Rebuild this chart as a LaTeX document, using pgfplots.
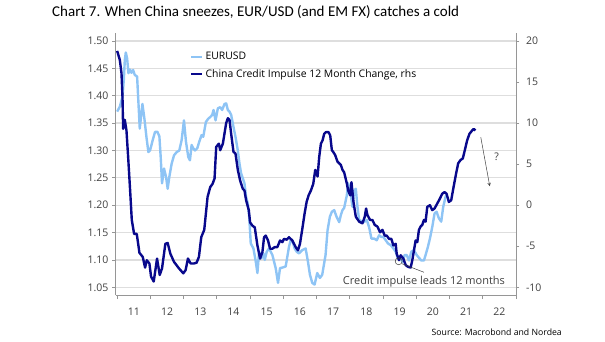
\documentclass[border=0pt]{standalone}
\usepackage{fontspec}
\usepackage{pgfplots}
\pgfplotsset{compat=1.18}
\setmainfont{Open Sans}
\newfontfamily\titlefont{Carlito}
\definecolor{eurlight}{RGB}{142,196,245}
\definecolor{cinavy}{RGB}{8,8,140}
\definecolor{txtgray}{RGB}{64,64,64}
\definecolor{gridgray}{RGB}{222,222,222}
\definecolor{axgray}{RGB}{150,150,150}

\pgfplotstableread{
x y
2011.00 1.371
2011.08 1.380
2011.16 1.398
2011.20 1.429
2011.23 1.465
2011.26 1.479
2011.30 1.468
2011.34 1.441
2011.38 1.448
2011.43 1.442
2011.48 1.447
2011.53 1.438
2011.60 1.435
2011.68 1.340
2011.76 1.385
2011.82 1.358
2011.88 1.325
2011.94 1.297
2011.99 1.300
2012.07 1.319
2012.14 1.334
2012.21 1.334
2012.27 1.326
2012.31 1.288
2012.35 1.240
2012.41 1.267
2012.47 1.252
2012.52 1.230
2012.57 1.252
2012.64 1.276
2012.71 1.291
2012.79 1.297
2012.87 1.300
2012.94 1.319
2013.01 1.355
2013.07 1.316
2013.14 1.288
2013.19 1.282
2013.24 1.310
2013.29 1.304
2013.34 1.300
2013.41 1.304
2013.47 1.316
2013.54 1.328
2013.59 1.325
2013.67 1.352
2013.74 1.358
2013.80 1.361
2013.86 1.365
2013.90 1.374
2013.96 1.355
2014.03 1.377
2014.10 1.379
2014.16 1.374
2014.23 1.385
2014.28 1.386
2014.33 1.374
2014.38 1.371
2014.43 1.365
2014.50 1.343
2014.56 1.325
2014.63 1.300
2014.68 1.276
2014.73 1.258
2014.78 1.249
2014.83 1.240
2014.88 1.215
2014.93 1.203
2014.97 1.181
2015.02 1.130
2015.10 1.121
2015.17 1.097
2015.22 1.076
2015.27 1.115
2015.34 1.103
2015.40 1.112
2015.44 1.100
2015.50 1.115
2015.57 1.121
2015.67 1.109
2015.77 1.085
2015.84 1.058
2015.90 1.085
2015.97 1.086
2016.07 1.088
2016.17 1.124
2016.22 1.136
2016.27 1.136
2016.34 1.121
2016.40 1.115
2016.47 1.112
2016.57 1.118
2016.67 1.121
2016.74 1.097
2016.80 1.073
2016.87 1.058
2016.94 1.055
2017.02 1.076
2017.10 1.067
2017.17 1.073
2017.27 1.109
2017.33 1.154
2017.40 1.179
2017.46 1.188
2017.53 1.191
2017.60 1.179
2017.68 1.169
2017.73 1.182
2017.78 1.191
2017.83 1.195
2017.91 1.218
2017.95 1.240
2018.01 1.227
2018.08 1.197
2018.13 1.227
2018.18 1.230
2018.23 1.197
2018.28 1.173
2018.38 1.170
2018.45 1.170
2018.51 1.173
2018.58 1.160
2018.65 1.139
2018.73 1.139
2018.81 1.136
2018.88 1.145
2018.95 1.142
2019.01 1.142
2019.08 1.136
2019.15 1.130
2019.23 1.127
2019.31 1.121
2019.38 1.115
2019.45 1.102
2019.53 1.104
2019.58 1.096
2019.65 1.109
2019.71 1.109
2019.78 1.099
2019.85 1.115
2019.93 1.118
2020.01 1.109
2020.08 1.104
2020.15 1.099
2020.23 1.099
2020.28 1.109
2020.35 1.124
2020.41 1.139
2020.48 1.160
2020.55 1.185
2020.61 1.188
2020.68 1.176
2020.75 1.170
2020.81 1.197
2020.88 1.215
2020.92 1.221
}\eurusd

\pgfplotstableread{
x y
2011.00 18.8
2011.08 17.7
2011.13 16.1
2011.16 13.2
2011.18 9.3
2011.23 10.4
2011.28 9.1
2011.33 5.9
2011.39 1.8
2011.44 -1.8
2011.51 -3.5
2011.59 -3.5
2011.67 -5.8
2011.77 -6.3
2011.84 -7.6
2011.89 -6.7
2011.97 -7.1
2012.02 -8.7
2012.10 -9.3
2012.20 -6.5
2012.28 -8.5
2012.35 -7.7
2012.45 -4.7
2012.52 -4.6
2012.60 -5.9
2012.71 -6.9
2012.86 -7.7
2012.99 -8.3
2013.06 -7.9
2013.13 -6.5
2013.21 -7.1
2013.31 -7.1
2013.39 -7.0
2013.46 -6.3
2013.53 -3.9
2013.62 -3.0
2013.67 -1.0
2013.72 1.0
2013.80 2.2
2013.87 2.6
2013.93 3.25
2013.98 7.1
2014.06 7.5
2014.10 6.7
2014.18 7.5
2014.28 10.0
2014.33 10.6
2014.38 10.4
2014.43 8.7
2014.50 6.5
2014.56 6.3
2014.63 4.3
2014.70 3.0
2014.78 2.0
2014.83 1.8
2014.88 0.6
2014.96 -0.6
2015.00 -2.1
2015.07 -2.5
2015.14 -2.7
2015.22 -4.9
2015.30 -6.5
2015.37 -5.7
2015.42 -3.9
2015.47 -3.7
2015.54 -4.3
2015.60 -5.3
2015.67 -5.3
2015.74 -5.1
2015.82 -5.1
2015.90 -4.3
2015.97 -4.5
2016.02 -4.1
2016.10 -4.2
2016.17 -3.9
2016.27 -4.3
2016.37 -5.1
2016.44 -5.5
2016.50 -4.7
2016.57 -2.9
2016.64 -1.0
2016.70 0.4
2016.76 1.2
2016.83 1.8
2016.90 2.6
2016.96 4.3
2017.03 3.5
2017.08 5.9
2017.13 7.5
2017.18 7.9
2017.23 8.7
2017.28 8.9
2017.36 8.9
2017.41 8.5
2017.46 6.7
2017.50 6.5
2017.56 6.1
2017.63 5.3
2017.68 5.1
2017.73 4.9
2017.78 4.3
2017.83 4.0
2017.91 2.65
2017.95 1.8
2018.01 1.2
2018.05 2.8
2018.11 0.4
2018.18 -1.4
2018.28 -2.0
2018.38 -2.2
2018.45 -1.4
2018.49 -0.4
2018.53 -1.2
2018.61 -1.8
2018.68 -1.8
2018.75 -2.4
2018.83 -2.6
2018.91 -3.3
2018.98 -3.0
2019.05 -3.7
2019.11 -3.7
2019.18 -4.1
2019.25 -4.1
2019.31 -4.9
2019.38 -4.7
2019.41 -5.9
2019.48 -6.7
2019.53 -6.1
2019.61 -6.5
2019.68 -7.3
2019.75 -7.5
2019.83 -7.6
2019.88 -6.7
2019.93 -5.5
2019.98 -4.3
2020.03 -4.5
2020.08 -3.0
2020.13 -2.6
2020.18 -2.4
2020.23 -1.8
2020.28 -2.0
2020.33 -0.2
2020.41 0.0
2020.48 -0.6
2020.55 -0.4
2020.63 0.2
2020.71 0.8
2020.78 1.4
2020.85 1.6
2020.91 1.4
2020.98 0.4
2021.05 0.6
2021.13 2.4
2021.20 3.9
2021.26 5.1
2021.33 5.5
2021.40 5.7
2021.46 6.7
2021.53 7.9
2021.60 8.7
2021.68 9.1
2021.73 9.3
2021.78 9.1
}\credit

\pgfplotsset{
  common/.style={
    at={(115.5pt,46pt)}, anchor=south west,
    width=400.5pt, height=262pt, scale only axis,
    xmin=2010.95, xmax=2023,
    tick align=outside,
    /pgf/number format/assume math mode=true,
    tick label style={font=\fontsize{10.5}{12}\selectfont, color=txtgray},
    axis line style={axgray, line width=0.8pt},
    tick style={axgray, line width=0.8pt},
    major tick length=3.5pt,
    minor tick length=4pt,
  }
}

\begin{document}
\begin{tikzpicture}
\useasboundingbox (0pt,0pt) rectangle (605pt,341pt);
\node[anchor=base west, inner sep=0pt, font=\titlefont\fontsize{15}{18}\selectfont] at (52pt,324.5pt) {Chart 7. When China sneezes, EUR/USD (and EM FX) catches a cold};
\node[anchor=base east, inner sep=0pt, font=\fontsize{8.7}{10}\selectfont, color=black] at (562pt,6pt) {Source: Macrobond and Nordea};

\begin{axis}[common,
  ymin=1.0359, ymax=1.5146,
  axis x line*=bottom, axis y line*=left,
  ytick={1.05,1.10,1.15,1.20,1.25,1.30,1.35,1.40,1.45,1.50},
  yticklabel style={/pgf/number format/.cd, fixed, fixed zerofill, precision=2},
  ymajorgrids, major grid style={gridgray, line width=1.2pt},
  xtick={2011.5,2012.5,2013.5,2014.5,2015.5,2016.5,2017.5,2018.5,2019.5,2020.5,2021.5,2022.5},
  xticklabels={11,12,13,14,15,16,17,18,19,20,21,22},
  major x tick style={draw=none},
  minor xtick={2011,2012,2013,2014,2015,2016,2017,2018,2019,2020,2021,2022,2023},
  xticklabel style={yshift=-6pt},
]
\addplot[eurlight, line width=2.4pt, line join=round] table[x=x,y=y] {\eurusd};
\end{axis}

\begin{axis}[common,
  ymin=-10.94, ymax=20.98,
  axis x line=none, axis y line*=right,
  ytick={-10,-5,0,5,10,15,20},
  yticklabel style={xshift=3pt},
  legend style={at={(0.186,0.935)}, anchor=north west, draw=none, fill=none,
    font=\fontsize{10.4}{12}\selectfont, row sep=4pt, inner sep=0pt,
    cells={anchor=west}},
  legend image code/.code={\draw[#1] (0pt,0pt) -- (11pt,0pt);},
]
\addlegendimage{eurlight, line width=2.4pt}
\addlegendentry{EURUSD}
\addplot[cinavy, line width=2.4pt, line join=round] table[x=x,y=y] {\credit};
\addlegendentry{China Credit Impulse 12 Month Change, rhs}
\draw[txtgray, line width=0.5pt] (axis cs:2019.47,-6.83) circle[radius=3.5pt];
\draw[txtgray, line width=0.5pt] (axis cs:2019.57,-7.13) -- (axis cs:2020.23,-8.17);
\node[txtgray, font=\fontsize{11}{12}\selectfont] at (axis cs:2020.23,-9.27) {Credit impulse leads 12 months};
\draw[txtgray, line width=0.5pt, -stealth] (axis cs:2021.94,8.29) -- (axis cs:2022.21,2.32);
\node[txtgray, font=\fontsize{10.5}{12}\selectfont] at (axis cs:2022.42,5.85) {?};
\end{axis}
\end{tikzpicture}
\end{document}
